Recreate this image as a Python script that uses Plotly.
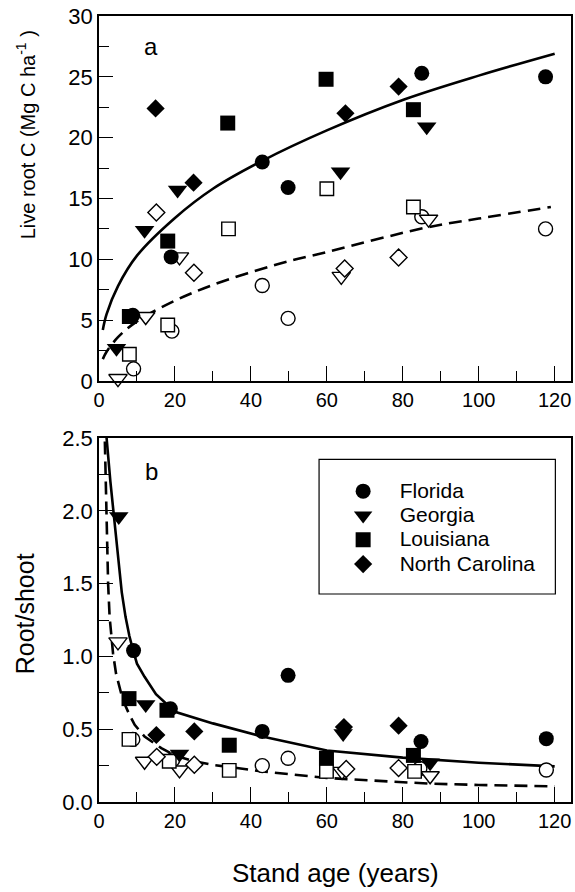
import plotly.graph_objects as go

# ---------------- Panel a: live root C (Mg C ha-1) ----------------
# filled symbols
fl_age_a = [8.9, 19.0, 43.0, 49.8, 85.0, 117.6]
fl_c_a = [5.4, 10.2, 18.0, 15.9, 25.3, 25.0]
ga_age_a = [4.6, 12.0, 20.7, 63.6, 86.3]
ga_c_a = [2.7, 12.4, 15.7, 17.2, 20.9]
la_age_a = [8.0, 18.1, 33.9, 59.8, 82.8]
la_c_a = [5.3, 11.5, 21.2, 24.8, 22.3]
nc_age_a = [14.9, 24.9, 64.9, 78.9]
nc_c_a = [22.4, 16.3, 22.0, 24.2]
# open symbols
fl_age_a_o = [9.1, 19.2, 43.0, 49.8, 85.0, 117.6]
fl_c_a_o = [1.0, 4.1, 7.85, 5.15, 13.5, 12.5]
ga_age_a_o = [5.0, 12.3, 21.2, 63.8, 86.8]
ga_c_a_o = [0.2, 5.3, 10.2, 8.6, 13.3]
la_age_a_o = [8.0, 18.1, 34.1, 60.0, 82.8]
la_c_a_o = [2.2, 4.6, 12.5, 15.8, 14.3]
nc_age_a_o = [15.1, 25.0, 64.7, 78.9]
nc_c_a_o = [13.85, 8.9, 9.25, 10.15]
# fitted curves
fit_a_age = [1, 2, 5, 10, 20, 30, 43, 60, 80, 100, 120]
fit_a_c = [4.2, 5.5, 7.8, 10.3, 13.4, 15.8, 18.1, 20.6, 23.1, 25.1, 26.9]
fit_a_age_o = [1, 2, 5, 10, 20, 30, 47, 60, 86, 100, 119]
fit_a_c_o = [1.8, 2.4, 3.6, 4.9, 6.6, 7.9, 9.6, 10.6, 12.6, 13.35, 14.3]

# ---------------- Panel b: root/shoot ----------------
fl_age_b = [9.1, 18.8, 43.0, 49.8, 84.8, 117.8]
fl_rs_b = [1.04, 0.64, 0.485, 0.87, 0.416, 0.435]
ga_age_b = [5.2, 12.3, 21.2, 64.3, 87.2]
ga_rs_b = [1.96, 0.67, 0.33, 0.47, 0.27]
la_age_b = [7.9, 17.9, 34.3, 59.9, 82.8]
la_rs_b = [0.71, 0.63, 0.39, 0.30, 0.32]
nc_age_b = [15.1, 25.1, 64.5, 78.9]
nc_rs_b = [0.46, 0.485, 0.515, 0.524]
fl_age_b_o = [8.9, 19.4, 43.0, 49.8, 84.5, 117.8]
fl_rs_b_o = [0.43, 0.29, 0.25, 0.30, 0.23, 0.22]
ga_age_b_o = [5.0, 12.0, 21.2, 64.0, 87.2]
ga_rs_b_o = [1.10, 0.28, 0.22, 0.21, 0.18]
la_age_b_o = [7.9, 18.5, 34.3, 59.9, 83.1]
la_rs_b_o = [0.43, 0.28, 0.217, 0.21, 0.21]
nc_age_b_o = [15.2, 25.1, 65.1, 78.9]
nc_rs_b_o = [0.31, 0.256, 0.227, 0.233]
fit_b_age = [1.7, 2.0, 3.0, 4.0, 5.0, 6.0, 7.0, 8.0, 9.0, 10, 12, 15, 20, 25, 30, 43, 60, 80, 100, 120]
fit_b_rs = [2.7, 2.5, 2.2, 1.93, 1.66, 1.44, 1.27, 1.14, 1.04, 0.95, 0.86, 0.74, 0.62, 0.58, 0.54, 0.45, 0.354, 0.305, 0.27, 0.245]
fit_b_age_o = [1.3, 1.5, 1.9, 2.4, 2.8, 3.7, 4.5, 6.3, 8, 9.4, 12, 16.4, 20, 25, 30, 43, 60, 87, 100, 120]
fit_b_rs_o = [2.75, 2.5, 1.9, 1.5, 1.27, 1.02, 0.88, 0.70, 0.60, 0.53, 0.45, 0.37, 0.32, 0.28, 0.255, 0.21, 0.165, 0.126, 0.117, 0.107]

states = ["Florida", "Georgia", "Louisiana", "North Carolina"]
symbols = ["circle", "triangle-down", "square", "diamond"]
sizes_filled = [15, 17, 15, 14]
sizes_open = [14, 16, 13.5, 13]

FONT = "Liberation Sans, Arial, sans-serif"
fig = go.Figure()

def line(x, y, xa, ya, dash, shape):
    fig.add_trace(go.Scatter(x=x, y=y, mode="lines", xaxis=xa, yaxis=ya, showlegend=False,
                             hoverinfo="skip",
                             line=dict(color="black", width=2.6, dash=dash, shape=shape)))

def pts(x, y, i, filled, xa, ya, legend=False):
    fig.add_trace(go.Scatter(
        x=x, y=y, mode="markers", xaxis=xa, yaxis=ya,
        name="<span style='font-size:21px'>" + states[i] + "</span>",
        showlegend=legend, cliponaxis=False,
        marker=dict(symbol=symbols[i],
                    size=sizes_filled[i] if filled else sizes_open[i],
                    color="black" if filled else "white",
                    line=dict(color="black", width=0 if filled else 1.4))))

# panel a
line(fit_a_age, fit_a_c, "x", "y", "solid", "spline")
line(fit_a_age_o, fit_a_c_o, "x", "y", "13px,7px", "spline")
open_a = [(fl_age_a_o, fl_c_a_o), (ga_age_a_o, ga_c_a_o), (la_age_a_o, la_c_a_o), (nc_age_a_o, nc_c_a_o)]
fill_a = [(fl_age_a, fl_c_a), (ga_age_a, ga_c_a), (la_age_a, la_c_a), (nc_age_a, nc_c_a)]
for i, (x, y) in enumerate(open_a):
    pts(x, y, i, False, "x", "y")
for i, (x, y) in enumerate(fill_a):
    pts(x, y, i, True, "x", "y")

# panel b
line(fit_b_age, fit_b_rs, "x2", "y2", "solid", "linear")
line(fit_b_age_o, fit_b_rs_o, "x2", "y2", "13px,7px", "linear")
open_b = [(fl_age_b_o, fl_rs_b_o), (ga_age_b_o, ga_rs_b_o), (la_age_b_o, la_rs_b_o), (nc_age_b_o, nc_rs_b_o)]
fill_b = [(fl_age_b, fl_rs_b), (ga_age_b, ga_rs_b), (la_age_b, la_rs_b), (nc_age_b, nc_rs_b)]
for i, (x, y) in enumerate(open_b):
    pts(x, y, i, False, "x2", "y2")
for i, (x, y) in enumerate(fill_b):
    pts(x, y, i, True, "x2", "y2", legend=True)

W, H = 575, 892
ML, MR, MT, MB = 99, 2, 16, 90
PW, PH = W - ML - MR, H - MT - MB

def px(xp):
    return (xp - ML) / PW

def py(yp):
    return (H - MB - yp) / PH

common_x = dict(range=[0, 124.3], showgrid=False, zeroline=False, showline=True, linecolor="black",
                linewidth=1.6, mirror=True, ticks="inside", ticklen=15, tickwidth=1.3, tickcolor="black",
                dtick=20, tick0=0, tickfont=dict(family=FONT, size=20, color="black"),
                minor=dict(dtick=10, ticks="inside", ticklen=10, tickwidth=1.3, tickcolor="black"))
common_y = dict(showgrid=False, zeroline=False, showline=True, linecolor="black", linewidth=1.6,
                mirror=True, ticks="inside", ticklen=14, tickwidth=1.3, tickcolor="black",
                tickfont=dict(family=FONT, size=22, color="black"))

ann_font = lambda s: dict(family=FONT, size=s, color="black")

fig.update_layout(
    width=W, height=H, margin=dict(l=ML, r=MR, t=MT, b=MB),
    paper_bgcolor="white", plot_bgcolor="white",
    font=dict(family=FONT, color="black"),
    xaxis=dict(common_x, domain=[0, 1], anchor="y"),
    yaxis=dict(common_y, domain=[py(381), 1], anchor="x", range=[0, 30], dtick=5,
               minor=dict(dtick=2.5, ticks="inside", ticklen=10, tickwidth=1.3, tickcolor="black")),
    xaxis2=dict(common_x, domain=[0, 1], anchor="y2"),
    yaxis2=dict(common_y, domain=[0, py(438)], anchor="x2", range=[0, 2.5], dtick=0.5,
                tickformat=".1f",
                minor=dict(dtick=0.25, ticks="inside", ticklen=10, tickwidth=1.3, tickcolor="black")),
    legend=dict(x=px(327.6), y=py(474), xanchor="left", yanchor="top", bgcolor="rgba(0,0,0,0)",
                borderwidth=0, font=dict(family=FONT, size=16.4, color="black"), itemwidth=63),
    shapes=[dict(type="rect", xref="paper", yref="paper", x0=px(320), x1=px(557.3),
                 y0=py(594), y1=py(459.3), line=dict(color="black", width=1.2), fillcolor="rgba(0,0,0,0)")],
    annotations=[
        dict(text="a", xref="x", yref="y", x=13.7, y=27.5, showarrow=False, font=ann_font(24)),
        dict(text="b", xref="x2", yref="y2", x=13.7, y=2.27, showarrow=False, font=ann_font(24)),
        dict(text="Live root C (Mg C ha<sup>-1</sup> )", xref="paper", yref="paper",
             x=px(25), y=py(135), xanchor="center", yanchor="middle", textangle=-90,
             showarrow=False, font=ann_font(20)),
        dict(text="Root/shoot", xref="paper", yref="paper", x=px(25), y=py(614),
             xanchor="center", yanchor="middle", textangle=-90, showarrow=False, font=ann_font(25)),
        dict(text="Stand age (years)", xref="paper", yref="paper", x=px(336.7), y=py(873),
             xanchor="center", yanchor="middle", showarrow=False, font=ann_font(26)),
    ],
)

fig.write_html("out.html", config={"displayModeBar": False},
               post_script="document.body.style.margin='0';")
